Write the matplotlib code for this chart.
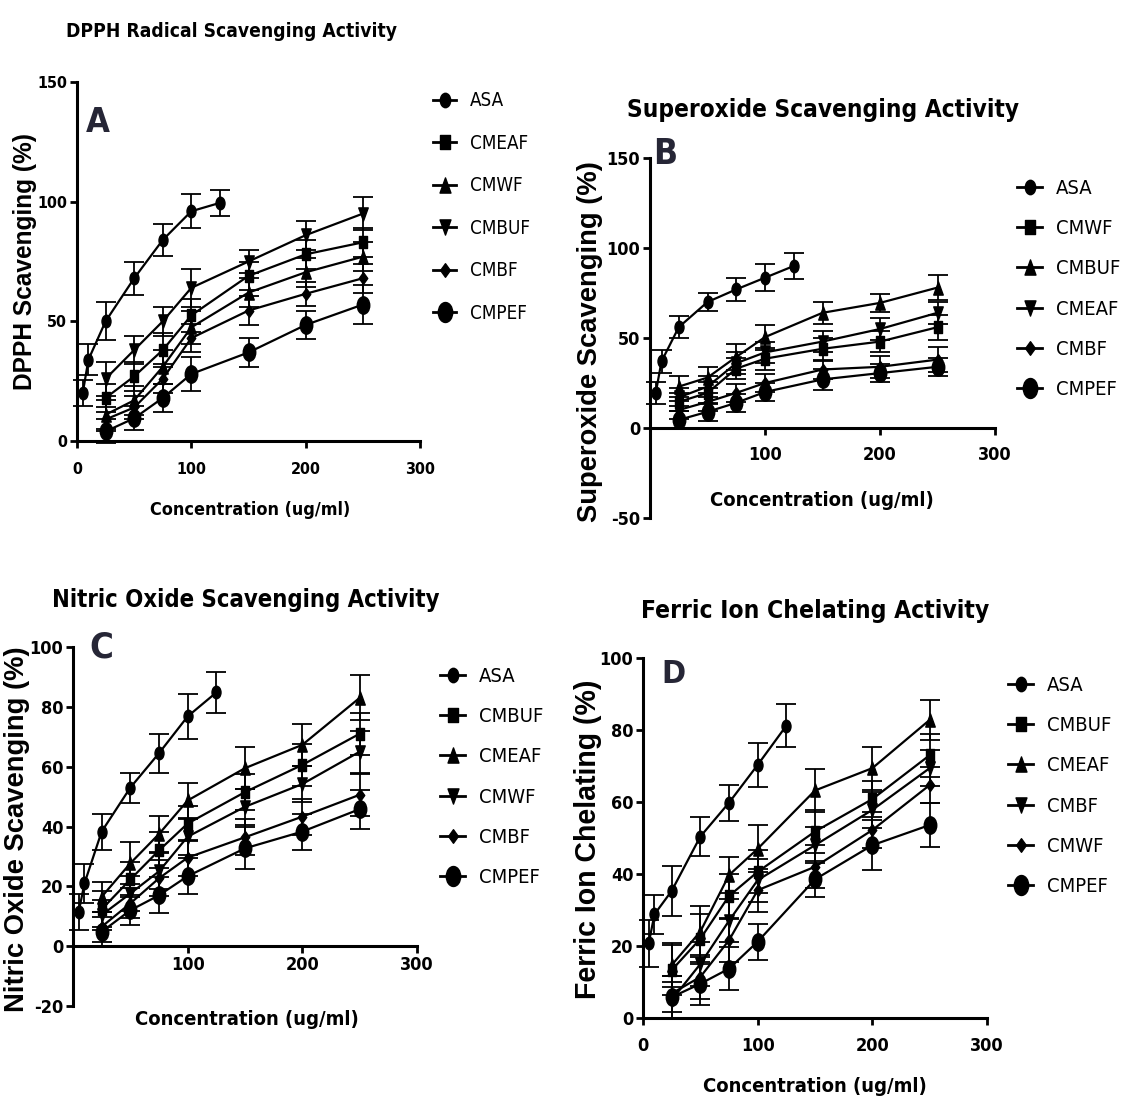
import os
import numpy as np
import matplotlib
matplotlib.use('Agg')
import matplotlib.pyplot as plt
from matplotlib import font_manager
from matplotlib.font_manager import FontProperties
from matplotlib.markers import MarkerStyle
from matplotlib.transforms import Affine2D
from matplotlib.lines import Line2D

W, H = 1124, 1099

# concentrations (ug/ml)
asa_conc = [5, 10, 25, 50, 75, 100, 125]
conc = [25, 50, 75, 100, 150, 200, 250]

# A - DPPH
dpph_labels = ['ASA', 'CMEAF', 'CMWF', 'CMBUF', 'CMBF', 'CMPEF']
dpph_means = [
    [20, 34, 50, 68, 84, 96, 99.5],
    [18, 27, 38, 52.5, 69, 78, 83],
    [11, 17, 31, 47.5, 62, 70.5, 77],
    [26, 38, 50, 64, 75, 86, 95],
    [9, 14, 26, 43, 54.5, 61.5, 68],
    [4, 9.5, 18, 28, 37, 48.5, 57],
]
dpph_err = [
    [5.5, 6.5, 8, 7, 6.5, 7, 5.5],
    [6, 6, 7, 7, 6, 6, 6],
    [6, 6, 7, 7, 6, 6, 6],
    [7, 6, 6, 8, 5, 6, 7],
    [5, 5, 6, 6, 6, 5, 6],
    [5, 5, 6, 7, 6, 6, 8],
]

# B - superoxide
sox_labels = ['ASA', 'CMWF', 'CMBUF', 'CMEAF', 'CMBF', 'CMPEF']
sox_means = [
    [19.5, 37, 56, 70, 77, 83.5, 90],
    [14.5, 19.5, 33, 38.5, 44, 48, 56],
    [23, 28, 39.5, 50.5, 64, 69.5, 78],
    [17, 23, 36, 42, 48, 55, 64],
    [10, 14.5, 19.5, 25, 32.5, 34, 38],
    [4.5, 9, 14, 20, 27, 30.5, 34],
]
sox_err = [
    [6, 6.5, 6, 5, 6.5, 7.5, 7],
    [5, 6, 6, 6, 6, 6, 7],
    [6, 6, 7, 7, 6, 5, 7],
    [5, 6, 6, 6, 6, 6, 6],
    [5, 5, 5, 5, 5, 6, 7],
    [5, 5, 5, 5, 6, 5, 5],
]

# C - nitric oxide
no_labels = ['ASA', 'CMBUF', 'CMEAF', 'CMWF', 'CMBF', 'CMPEF']
no_means = [
    [11.5, 21, 38.3, 53, 64.5, 76.8, 84.8],
    [12.3, 22.3, 32, 41, 51.5, 60.6, 71],
    [16.5, 27.7, 37.5, 48.7, 59.5, 67.3, 83],
    [10.4, 17.6, 25, 36.6, 46.6, 54.2, 65],
    [6.5, 14.3, 22.7, 29.6, 36.4, 43.3, 50.6],
    [4.8, 12, 17, 23.4, 32.7, 38.3, 45.8],
]
no_err = [
    [6, 6.5, 6, 5, 6.5, 7.5, 7],
    [6, 6, 6, 6, 6, 7, 7],
    [5, 7, 6, 6, 7, 7, 7.5],
    [5, 6, 6, 6, 6, 6, 7],
    [5, 5, 6, 6, 6, 6, 7],
    [5, 5, 6, 6, 7, 6, 6.5],
]

# D - ferric ion chelating
fe_labels = ['ASA', 'CMBUF', 'CMEAF', 'CMBF', 'CMWF', 'CMPEF']
fe_means = [
    [20.7, 28.8, 35.3, 50.4, 59.8, 70.3, 81.2],
    [13.3, 22, 33.9, 40.6, 51.8, 60.8, 73],
    [14.7, 24, 39.7, 47, 63.2, 69.4, 82.8],
    [5, 15, 27, 38.3, 48, 57.8, 69.4],
    [6.8, 11.4, 21.6, 35.5, 42, 52.2, 64.7],
    [5.8, 9.5, 13.7, 21.2, 38.5, 48, 53.6],
]
fe_err = [
    [6.5, 5.5, 7, 5.5, 5, 6, 6],
    [7, 7, 6, 6, 6, 5, 6],
    [6, 7, 5, 6.5, 6, 6, 5.5],
    [5, 6, 6, 6, 5, 5, 5],
    [5, 6, 6, 6, 6, 5, 5],
    [6, 6, 6, 5, 5, 7, 6],
]


def condensed_font(bold):
    # look for any narrow / condensed sans face that is installed
    for f in font_manager.fontManager.ttflist:
        fn = os.path.basename(f.fname).lower()
        if 'serif' in fn and 'sans' not in fn:
            continue
        if ('condensed' in fn or 'narrow' in fn) and ('bold' in fn) == bold \
                and 'italic' not in fn and 'oblique' not in fn and 'semi' not in fn:
            return FontProperties(fname=f.fname)
    return FontProperties(family=['Liberation Sans', 'DejaVu Sans'],
                          weight='bold' if bold else 'normal')


FP_BOLD = condensed_font(True)
FP_REG = condensed_font(False)
FP_ROT = FontProperties(family=['Liberation Sans', 'DejaVu Sans'], weight='bold')
plt.rcParams['axes.unicode_minus'] = False


def squeezed(m, sx=0.72):
    st = MarkerStyle(m)
    return st.get_path().transformed(st.get_transform() + Affine2D().scale(sx, 1.0))


markers = [squeezed(m) for m in ['o', 's', '^', 'v', 'D', 'o']]
msizes = [9, 8.5, 9.5, 9.5, 8.5, 12.5]

fig = plt.figure(figsize=(W / 100, H / 100), dpi=100)
renderer = fig.canvas.get_renderer()


def px_axes(l, r, t, b):
    return fig.add_axes([l / W, 1 - b / H, (r - l) / W, (b - t) / H])


def panel(ax, means, errs, labels, ylim, yticks, xticks, tick_fs, xpad, zero_axis,
          leg_xy, leg_fs, leg_sp):
    for i in range(6):
        x = asa_conc if i == 0 else conc
        c = ax.errorbar(x, means[i], yerr=errs[i], color='black', lw=1.6,
                        marker=markers[i], ms=msizes[i], capsize=7,
                        elinewidth=1.3, capthick=1.3, zorder=3)
        for art in [c.lines[0]] + list(c.lines[1]) + list(c.lines[2]):
            art.set_clip_on(False)
    ax.set_xlim(0, 300)
    ax.set_ylim(*ylim)
    ax.set_xticks(xticks)
    ax.set_yticks(yticks)
    for s in ['top', 'right']:
        ax.spines[s].set_visible(False)
    for s in ['left', 'bottom']:
        ax.spines[s].set_linewidth(2.2)
    if zero_axis:
        ax.spines['bottom'].set_position(('data', 0))
    ax.tick_params(width=2, length=5, pad=2)
    ax.tick_params(axis='x', pad=xpad)
    for lab in ax.get_xticklabels() + ax.get_yticklabels():
        lab.set_fontproperties(FP_BOLD)
        lab.set_fontsize(tick_fs)
    ax.patch.set_alpha(0)

    handles = [Line2D([], [], color='black', lw=2, marker=markers[i], ms=msizes[i] * 1.15)
               for i in range(6)]
    prop = FP_REG.copy()
    prop.set_size(leg_fs)
    ax.legend(handles, labels, loc='center left', frameon=False,
              bbox_to_anchor=(leg_xy[0] / W, 1 - leg_xy[1] / H), bbox_transform=fig.transFigure,
              borderpad=0, borderaxespad=0, handlelength=1.25, handletextpad=0.7,
              labelspacing=leg_sp, prop=prop)


axA = px_axes(77, 420, 82, 441)
panel(axA, dpph_means, dpph_err, dpph_labels, (0, 150), [0, 50, 100, 150],
      [0, 100, 200, 300], 11.5, 10, False, (433, 207), 13.5, 1.25)
axB = px_axes(650, 995, 158, 518)
panel(axB, sox_means, sox_err, sox_labels, (-50, 150), [-50, 0, 50, 100, 150],
      [100, 200, 300], 13, 8, True, (1017, 289), 14.5, 1.05)
axC = px_axes(73, 417, 647, 1006)
panel(axC, no_means, no_err, no_labels, (-20, 100), [-20, 0, 20, 40, 60, 80, 100],
      [100, 200, 300], 13, 2, True, (440, 777), 14.5, 1.05)
axD = px_axes(643, 987, 658, 1018)
panel(axD, fe_means, fe_err, fe_labels, (0, 100), [0, 20, 40, 60, 80, 100],
      [0, 100, 200, 300], 13, 9, False, (1008, 786), 14.5, 1.05)


def ftext(x, y, s, target, fp=FP_BOLD, rot=0, **kw):
    # place a text at pixel (x, y) and size it so its long side spans `target` px
    t = fig.text(x / W, 1 - y / H, s, fontproperties=fp, rotation=rot, **kw)
    t.set_fontsize(20)
    bb = t.get_window_extent(renderer)
    cur = bb.height if rot else bb.width
    t.set_fontsize(20 * target / cur)
    return t


# titles
ftext(232, 37, 'DPPH Radical Scavenging Activity', 330, ha='center', va='baseline')
ftext(823, 117, 'Superoxide Scavenging Activity', 392, ha='center', va='baseline')
ftext(246, 607, 'Nitric Oxide Scavenging Activity', 390, ha='center', va='baseline')
ftext(815, 618, 'Ferric Ion Chelating Activity', 348, ha='center', va='baseline')

# x labels
ftext(250, 515, 'Concentration (ug/ml)', 200, ha='center', va='baseline')
ftext(822, 506, 'Concentration (ug/ml)', 225, ha='center', va='baseline')
ftext(247, 1025, 'Concentration (ug/ml)', 225, ha='center', va='baseline')
ftext(815, 1092, 'Concentration (ug/ml)', 225, ha='center', va='baseline')

# y labels
ftext(25, 261, 'DPPH Scavenging (%)', 258, fp=FP_ROT, rot=90, ha='center', va='center')
ftext(590, 342, 'Superoxide Scavenging (%)', 360, fp=FP_ROT, rot=90, ha='center', va='center')
ftext(17, 829, 'Nitric Oxide Scavenging (%)', 365, fp=FP_ROT, rot=90, ha='center', va='center')
ftext(588, 839, 'Ferric Ion Chelating (%)', 320, fp=FP_ROT, rot=90, ha='center', va='center')

# panel letters
letter_col = '#262636'
for x, y, s in [(98, 132, 'A'), (665, 164, 'B'), (101, 658, 'C'), (673, 683, 'D')]:
    ftext(x, y, s, 24, ha='center', va='baseline', color=letter_col)

fig.savefig('out.png', dpi=100)
